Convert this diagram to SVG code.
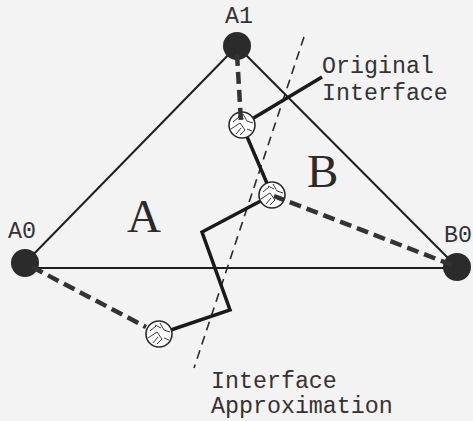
<svg xmlns="http://www.w3.org/2000/svg" xmlns:xlink="http://www.w3.org/1999/xlink" width="473" height="421" viewBox="0 0 473 421">
<style>
.lbl{font-family:"Liberation Mono","DejaVu Sans Mono",monospace;font-size:23.3px;fill:#333}
.big{font-family:"Liberation Serif","DejaVu Serif",serif;font-size:47px;fill:#2a2a2a}
.tri{stroke:#1e1e1e;stroke-width:2;fill:none}
.iface{stroke:#1a1a1a;stroke-width:3.5;fill:none;stroke-linejoin:miter}
.approx{stroke:#2a2a2a;stroke-width:1.6;fill:none;stroke-dasharray:9 6}
.link{stroke:#333;stroke-width:4.5;fill:none;stroke-dasharray:12 6}
.vert{fill:#2b2b2b}
.pt{fill:#fff;stroke:#2a2a2a;stroke-width:1.6}
.hatch{stroke:#3a3a3a;stroke-width:1;fill:none}
</style>
<defs>
<g id="hatched">
<circle class="pt" r="13"/>
<path class="hatch" d="M-9 -3 L-3 -8 M-11 4 L-2 -2 L3 5 L-2 10 M1 -11 L5 -4 L11 -2 M-6 9 L-1 3 M5 4 L10 6 M-4 -9 L2 -6"/>
</g>
</defs>
<rect width="473" height="421" fill="#f3f3f3"/>
<g id="connectors">
<line class="tri" x1="237" y1="46" x2="25" y2="263"/>
<line class="tri" x1="237" y1="46" x2="457" y2="267"/>
<line class="tri" x1="30" y1="268" x2="457" y2="268"/>
<line class="approx" x1="304" y1="37" x2="194" y2="368"/>
<path class="iface" d="M322 77 L242 125 L272 195 L202 232 L230 310 L159 334"/>
</g>
<g id="A1"><circle class="vert" cx="237" cy="46" r="14"/><text class="lbl" x="239" y="23" text-anchor="middle">A1</text></g>
<g id="A0"><circle class="vert" cx="25" cy="263" r="14"/><text class="lbl" x="22" y="238" text-anchor="middle">A0</text></g>
<g id="B0"><circle class="vert" cx="457" cy="267" r="14"/><text class="lbl" x="458" y="242" text-anchor="middle">B0</text></g>
<g id="p1"><use xlink:href="#hatched" x="242" y="125"/></g>
<g id="p2"><use xlink:href="#hatched" x="272" y="195"/></g>
<g id="p3"><use xlink:href="#hatched" x="159" y="334"/></g>
<g id="links">
<line class="link" x1="237" y1="54" x2="241" y2="122"/>
<line class="link" x1="452" y1="265" x2="274" y2="196"/>
<line class="link" x1="32" y1="267" x2="146" y2="327"/>
</g>
<g id="labels">
<text class="big" x="127" y="232">A</text>
<text class="big" x="307" y="187">B</text>
<text class="lbl" x="322" y="73">Original</text>
<text class="lbl" x="322" y="100">Interface</text>
<text class="lbl" x="211" y="388">Interface</text>
<text class="lbl" x="211" y="413">Approximation</text>
</g>
</svg>
